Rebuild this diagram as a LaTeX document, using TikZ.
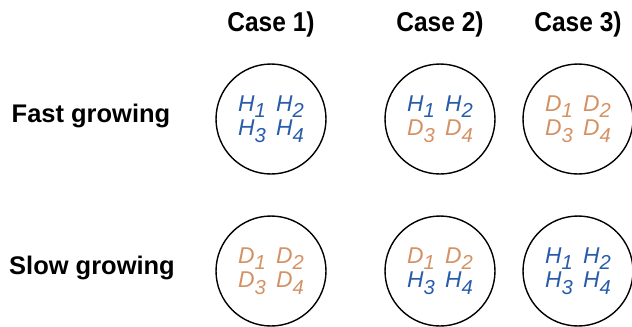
\documentclass[tikz,border=0pt]{standalone}
\usepackage{fontspec}
\setmainfont{Liberation Sans}
\usetikzlibrary{calc}
\definecolor{hblue}{RGB}{40,92,170}
\definecolor{dorange}{RGB}{212,145,100}
\newcommand{\gene}[2]{\textit{#1}\raisebox{-0.55ex}{\textit{\fontsize{11.5}{11.5}\selectfont #2}}}
\newcommand{\narrow}[1]{\scalebox{0.9}[1]{#1}}

\begin{document}
\begin{tikzpicture}[x=0.02cm,y=-0.02cm,
    caselabel/.style={font=\bfseries\fontsize{15.5}{15.5}\selectfont},
    rowlabel/.style={font=\bfseries\fontsize{14.5}{14.5}\selectfont},
    cell/.style={draw, circle, line width=0.8pt, minimum size=2.2cm, inner sep=0pt, align=center,
      font=\fontsize{13}{14}\selectfont}]
    \useasboundingbox (0,0) rectangle (632,326);
    \foreach \c/\x in {1/271,2/440,3/578}{
      \node[caselabel] (case\c) at (\x,24) {\narrow{Case \c)}};
    }
    \node[rowlabel] (fast) at (91,116) {Fast growing};
    \node[rowlabel] (slow) at (92,268) {Slow growing};
    % fast growing row
    \foreach \c/\x/\tu/\cu/\tl/\cl in {1/271/H/hblue/H/hblue, 2/440/H/hblue/D/dorange, 3/578/D/dorange/D/dorange}{
      \node[cell] (f\c) at (\x,119) {{\color{\cu}\gene{\tu}{1}\hspace{0.45em}\gene{\tu}{2}}\\{\color{\cl}\gene{\tl}{3}\hspace{0.45em}\gene{\tl}{4}}};
    }
    % slow growing row
    \foreach \c/\x/\tu/\cu/\tl/\cl in {1/271/D/dorange/D/dorange, 2/440/D/dorange/H/hblue, 3/578/H/hblue/H/hblue}{
      \node[cell] (s\c) at (\x,271) {{\color{\cu}\gene{\tu}{1}\hspace{0.45em}\gene{\tu}{2}}\\{\color{\cl}\gene{\tl}{3}\hspace{0.45em}\gene{\tl}{4}}};
    }
  \end{tikzpicture}
\end{document}
